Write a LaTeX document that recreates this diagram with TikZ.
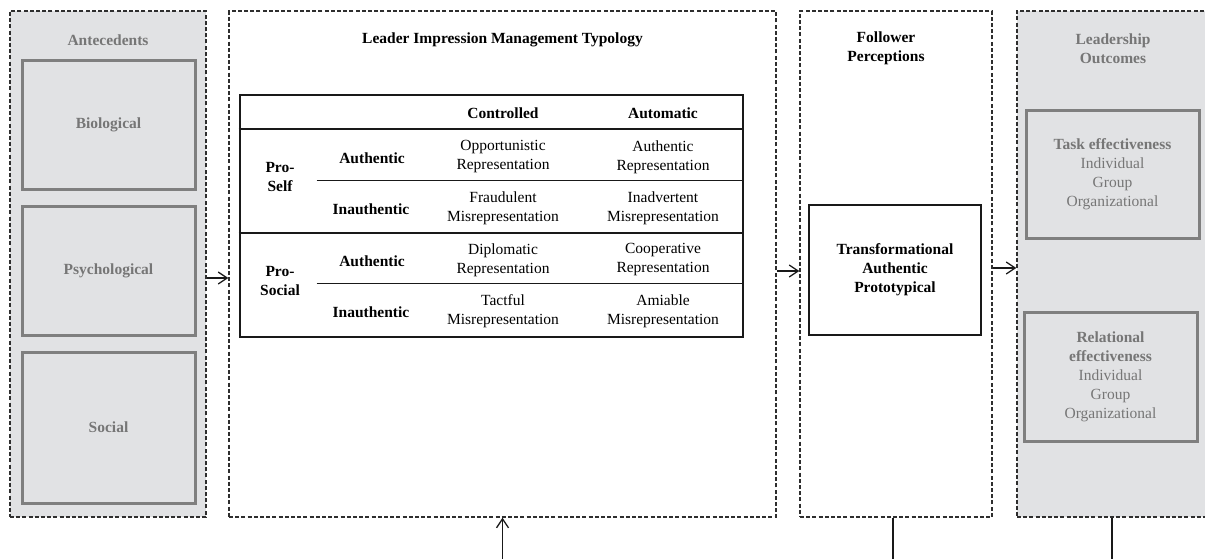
\documentclass[tikz,border=0pt]{standalone}
\usepackage{fontspec}
\setmainfont{Liberation Serif}
\usetikzlibrary{arrows.meta}
\definecolor{panelgray}{HTML}{E1E2E4}
\definecolor{edgegray}{HTML}{7F7F7F}
\definecolor{txtgray}{HTML}{767676}
\definecolor{dashgray}{HTML}{2E2E2E}
\begin{document}
\begin{tikzpicture}[x=1pt,y=-1pt,
  every node/.style={font=\fontsize{15.5}{19}\selectfont, align=center, inner sep=0pt},
  panel/.style={draw=dashgray, line width=1.3pt, dash pattern=on 4pt off 2.2pt},
  graypanel/.style={panel, fill=panelgray},
  graybox/.style={draw=edgegray, line width=3pt, font=\fontsize{15.5}{19}\selectfont\bfseries, text=txtgray},
  blackbox/.style={draw=black!90, line width=2.6pt},
  bold/.style={font=\fontsize{15.5}{19}\selectfont\bfseries},
  graybold/.style={bold, text=txtgray},
  arr/.style={draw=black!90, line width=1.3pt, -{Straight Barb[length=9pt,width=12pt,line width=1.3pt]}},
  plainline/.style={draw=black!90, line width=1.8pt}
]
\useasboundingbox (0,0) rectangle (1205,558);
\clip (0,0) rectangle (1205,558);
\fill[white] (0,0) rectangle (1205,558);

% panels
\node[graypanel, minimum width=196pt, minimum height=506pt] (ant) at (108,264) {};
\node[panel, minimum width=547pt, minimum height=506pt] (typ) at (502.5,264) {};
\node[panel, minimum width=192pt, minimum height=506pt] (fol) at (896,264) {};
\node[graypanel, minimum width=200pt, minimum height=506pt] (out) at (1117,264) {};

% titles
\node[graybold] (antT) at (108,40) {Antecedents};
\node[bold] (typT) at (502.5,40) {Leader Impression Management Typology};
\node[bold] (folT) at (886,48.5) {Follower\\Perceptions};
\node[graybold] (outT) at (1113,48.5) {Leadership\\Outcomes};

% antecedent boxes
\node[graybox, minimum width=173pt, minimum height=129pt] (bio) at (108.5,124.5) {Biological};
\node[graybox, minimum width=173pt, minimum height=129pt] (psy) at (108.5,270.5) {Psychological};
\node[graybox, minimum width=173pt, minimum height=151pt] (soc) at (108.5,427.5) {Social};

% table
\node[blackbox, minimum width=503pt, minimum height=242pt] (tbl) at (491.5,216) {};
\draw[draw=black!90, line width=2pt] ([yshift=-35pt]tbl.north west) -- ([yshift=-35pt]tbl.north east);
\draw[draw=black!90, line width=2pt] ([yshift=-139pt]tbl.north west) -- ([yshift=-139pt]tbl.north east);
\draw[draw=black!90, line width=1.5pt] ([xshift=78pt,yshift=-87pt]tbl.north west) -- ([yshift=-87pt]tbl.north east);
\draw[draw=black!90, line width=1.5pt] ([xshift=78pt,yshift=-190pt]tbl.north west) -- ([yshift=-190pt]tbl.north east);

\node[bold] (hc) at (503,113) {Controlled};
\node[bold] (ha) at (663,113) {Automatic};
\node[bold] (ps) at (280,177) {Pro-\\Self};
\node[bold] (pso) at (280,280.5) {Pro-\\Social};
\node[bold] (a1) at (372,158) {Authentic};
\node[bold] (i1) at (371,209) {Inauthentic};
\node[bold] (a2) at (372,261) {Authentic};
\node[bold] (i2) at (371,312) {Inauthentic};

\node (c11) at (503,157) {Opportunistic\\Representation};
\node (c12) at (663,157) {Authentic\\Representation};
\node (c21) at (503,208) {Fraudulent\\Misrepresentation};
\node (c22) at (663,208) {Inadvertent\\Misrepresentation};
\node (c31) at (503,260) {Diplomatic\\Representation};
\node (c32) at (663,260) {Cooperative\\Representation};
\node (c41) at (503,311) {Tactful\\Misrepresentation};
\node (c42) at (663,311) {Amiable\\Misrepresentation};

% follower box
\node[blackbox, minimum width=172pt, minimum height=130pt, bold] (tap) at (895,270) {Transformational\\Authentic\\Prototypical};

% outcome boxes
\node[draw=edgegray, line width=3pt, text=txtgray, minimum width=173pt, minimum height=128pt] (task) at (1112.5,174)
  {\textbf{Task effectiveness}\\Individual\\Group\\Organizational};
\node[draw=edgegray, line width=3pt, text=txtgray, minimum width=173pt, minimum height=129pt] (rel) at (1110.5,376.5)
  {\textbf{Relational}\\\textbf{effectiveness}\\Individual\\Group\\Organizational};

% arrows between panels
\draw[arr] ([yshift=-14pt]ant.east) -- ([yshift=-14pt]typ.west);
\draw[arr] ([yshift=-7pt]typ.east) -- ([yshift=-7pt]fol.west);
\draw[arr] ([yshift=-4pt]fol.east) -- ([yshift=-4pt]out.west);

% bottom connectors
\coordinate (b1) at (502.5,560);
\coordinate (b2) at (893,560);
\coordinate (b3) at (1112,560);
\draw[arr] (b1) -- (typ.south);
\draw[plainline] (b2) -- (fol.south -| b2);
\draw[plainline] (b3) -- (out.south -| b3);
\end{tikzpicture}
\end{document}
